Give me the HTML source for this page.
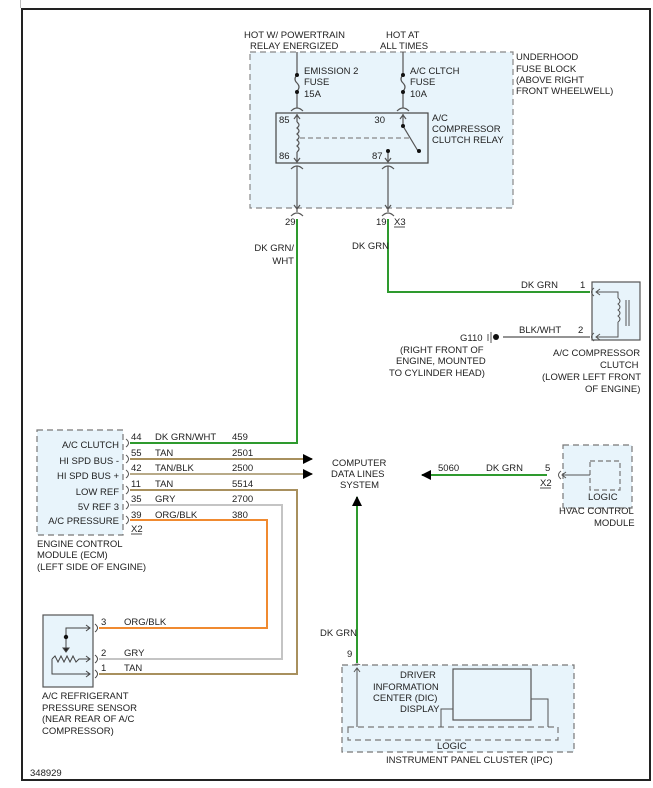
<!DOCTYPE html>
<html><head><meta charset="utf-8"><style>
html,body{margin:0;padding:0;background:#fff;}
svg text{font-family:"Liberation Sans",sans-serif;font-size:9.5px;fill:#222;}
</style></head><body>
<svg width="653" height="783" viewBox="0 0 653 783" xmlns="http://www.w3.org/2000/svg">
<defs>
<marker id="ah" viewBox="0 0 10 10" refX="9" refY="5" markerWidth="10" markerHeight="10" markerUnits="userSpaceOnUse" orient="auto"><path d="M0,0L10,5L0,10z" fill="#000"/></marker>
</defs>
<rect x="0" y="0" width="653" height="783" fill="#fff"/>
<line x1="20.5" y1="0" x2="20.5" y2="8" stroke="#bbb"/>
<rect x="22" y="9" width="628" height="771" fill="none" stroke="#222" stroke-width="2"/>

<!-- Fuse block -->
<rect x="250" y="52" width="263" height="156" fill="#e8f4fb" stroke="#888" stroke-dasharray="6,4" stroke-width="1.2"/>
<text x="244" y="38">HOT W/ POWERTRAIN</text>
<text x="250" y="49">RELAY ENERGIZED</text>
<text x="386" y="38">HOT AT</text>
<text x="380" y="49">ALL TIMES</text>
<text x="516" y="60">UNDERHOOD</text>
<text x="516" y="72">FUSE BLOCK</text>
<text x="516" y="83">(ABOVE RIGHT</text>
<text x="516" y="94">FRONT WHEELWELL)</text>
<g stroke="#555" stroke-width="1.2" fill="none">
<line x1="297" y1="52" x2="297" y2="75"/>
<path d="M297,75 q-4,4 0,8 q4,4 0,8"/>
<line x1="297" y1="91" x2="297" y2="108"/>
<line x1="403" y1="52" x2="403" y2="75"/>
<path d="M403,75 q-4,4 0,8 q4,4 0,8"/>
<line x1="403" y1="91" x2="403" y2="108"/>
<path d="M291,111 q6,-6 12,0"/><path d="M397,111 q6,-6 12,0"/>
<rect x="276" y="113" width="152" height="50" stroke="#444" stroke-width="1.2" fill="#e8f4fb"/>
<line x1="297" y1="114" x2="297" y2="122"/>
<path d="M294,119l3,-4l3,4"/>
<path d="M297,122 q4,3 0,6 q4,3 0,6 q4,3 0,6 q4,3 0,6 q4,3 0,6"/>
<line x1="297" y1="152" x2="297" y2="162"/>
<path d="M294,158l3,4l3,-4"/>
<line x1="300" y1="138" x2="410" y2="138" stroke="#888" stroke-dasharray="5,3"/>
<line x1="403" y1="114" x2="403" y2="126"/>
<path d="M400,119l3,-4l3,4"/>
<line x1="403" y1="126" x2="418" y2="151"/>
<line x1="388" y1="151" x2="388" y2="162"/>
<path d="M385,158l3,4l3,-4"/>
<path d="M291,169 q6,-6 12,0"/><path d="M382,169 q6,-6 12,0"/>
<line x1="297" y1="166" x2="297" y2="212"/>
<line x1="388" y1="166" x2="388" y2="212"/>
<path d="M294,205l3,4l3,-4"/><path d="M385,205l3,4l3,-4"/>
<path d="M291,216 q6,-6 12,0"/><path d="M382,216 q6,-6 12,0"/>
</g>
<g fill="#111"><circle cx="297" cy="75" r="2"/><circle cx="297" cy="92" r="2"/><circle cx="403" cy="75" r="2"/><circle cx="403" cy="92" r="2"/><circle cx="403" cy="126" r="2"/><circle cx="419" cy="151" r="2"/><circle cx="388" cy="151" r="2"/></g>
<text x="304" y="74">EMISSION 2</text><text x="304" y="85">FUSE</text><text x="304" y="97">15A</text>
<text x="410" y="74">A/C CLTCH</text><text x="410" y="85">FUSE</text><text x="410" y="97">10A</text>
<text x="432" y="121">A/C</text><text x="432" y="132">COMPRESSOR</text><text x="432" y="143">CLUTCH RELAY</text>
<text x="279" y="123">85</text><text x="279" y="159">86</text><text x="385" y="123" text-anchor="end">30</text><text x="372" y="159">87</text>
<text x="285" y="225">29</text><text x="376" y="225">19</text><text x="394" y="225">X3</text>
<line x1="394" y1="227" x2="405" y2="227" stroke="#222" stroke-width="0.8"/>

<!-- green wires -->
<g stroke="#2e9a2e" stroke-width="2" fill="none">
<polyline points="297,219 297,443 130,443"/>
<polyline points="388,219 388,292 590,292"/>
<line x1="547" y1="475" x2="422" y2="475" marker-end="url(#ah)"/>
<line x1="357" y1="663" x2="357" y2="497" marker-end="url(#ah)"/>
</g>
<text x="294" y="251" text-anchor="end">DK GRN/</text><text x="294" y="264" text-anchor="end">WHT</text>
<text x="352" y="249">DK GRN</text>

<!-- Clutch -->
<rect x="592" y="282" width="48" height="58" fill="#e8f4fb" stroke="#555" stroke-width="1.2"/>
<g stroke="#555" stroke-width="1" fill="none">
<path d="M594,288 q-5,4 0,8"/><path d="M594,333 q-5,4 0,8"/>
<polyline points="600,289 596,292 600,295"/><polyline points="600,334 596,337 600,340"/>
<polyline points="596,292 618,292 618,298"/>
<path d="M618,298 q4,3 0,6 q4,3 0,6 q4,3 0,6 q4,3 0,6"/>
<polyline points="618,322 618,337 596,337"/>
<line x1="626" y1="300" x2="626" y2="326"/><line x1="629" y1="300" x2="629" y2="326"/>
<line x1="503" y1="337" x2="590" y2="337" stroke="#555" stroke-width="1.2"/>
<line x1="488" y1="334" x2="488" y2="341"/><line x1="491" y1="332" x2="491" y2="343"/>
</g>
<circle cx="496" cy="337" r="3" fill="#111"/>
<text x="521" y="288">DK GRN</text><text x="580" y="288">1</text>
<text x="519" y="333">BLK/WHT</text><text x="578" y="333">2</text>
<text x="460" y="341">G110</text>
<text x="400" y="353">(RIGHT FRONT OF</text><text x="396" y="364">ENGINE, MOUNTED</text><text x="389" y="376">TO CYLINDER HEAD)</text>
<text x="553" y="356">A/C COMPRESSOR</text><text x="600" y="368">CLUTCH</text><text x="542" y="380">(LOWER LEFT FRONT</text><text x="585" y="392">OF ENGINE)</text>

<!-- ECM -->
<rect x="37" y="430" width="86" height="105" fill="#e8f4fb" stroke="#777" stroke-dasharray="6,4" stroke-width="1.2"/>
<g stroke="#555" stroke-width="1" fill="none">
<path d="M126,439 q5,4 0,8"/><path d="M126,455 q5,4 0,8"/><path d="M126,470 q5,4 0,8"/><path d="M126,486 q5,4 0,8"/><path d="M126,501 q5,4 0,8"/><path d="M126,516 q5,4 0,8"/>
</g>
<g font-size="9.5">
<text x="119" y="448" text-anchor="end">A/C CLUTCH</text>
<text x="119" y="464" text-anchor="end">HI SPD BUS -</text>
<text x="119" y="479" text-anchor="end">HI SPD BUS +</text>
<text x="119" y="495" text-anchor="end">LOW REF</text>
<text x="119" y="510" text-anchor="end">5V REF 3</text>
<text x="119" y="524" text-anchor="end">A/C PRESSURE</text>
</g>
<text x="131" y="440">44</text><text x="155" y="440">DK GRN/WHT</text><text x="232" y="440">459</text>
<text x="131" y="456">55</text><text x="155" y="456">TAN</text><text x="232" y="456">2501</text>
<text x="131" y="471">42</text><text x="155" y="471">TAN/BLK</text><text x="232" y="471">2500</text>
<text x="131" y="487">11</text><text x="155" y="487">TAN</text><text x="232" y="487">5514</text>
<text x="131" y="502">35</text><text x="155" y="502">GRY</text><text x="232" y="502">2700</text>
<text x="131" y="518">39</text><text x="155" y="518">ORG/BLK</text><text x="232" y="518">380</text>
<text x="131" y="532">X2</text><line x1="131" y1="534" x2="142" y2="534" stroke="#222" stroke-width="0.8"/>
<text x="37" y="547">ENGINE CONTROL</text><text x="37" y="558">MODULE (ECM)</text><text x="37" y="570">(LEFT SIDE OF ENGINE)</text>
<g fill="none" stroke-width="2">
<line x1="130" y1="459" x2="312" y2="459" stroke="#a8905e" marker-end="url(#ah)"/>
<line x1="130" y1="474" x2="312" y2="474" stroke="#b8aa88" marker-end="url(#ah)"/>
<polyline points="130,490 297,490 297,674 99,674" stroke="#a8905e"/>
<polyline points="130,505 282,505 282,659 99,659" stroke="#c4c4c4"/>
<polyline points="130,520 267,520 267,628 99,628" stroke="#f08a30"/>
</g>
<text x="332" y="466">COMPUTER</text><text x="331" y="477">DATA LINES</text><text x="340" y="488">SYSTEM</text>

<!-- HVAC -->
<rect x="563" y="445" width="69" height="63" fill="#e8f4fb" stroke="#777" stroke-dasharray="6,4" stroke-width="1.2"/>
<rect x="590" y="461" width="30" height="29" fill="none" stroke="#777" stroke-dasharray="5,3" stroke-width="1.2"/>
<g stroke="#555" stroke-width="1" fill="none">
<path d="M561,471 q-5,4 0,8"/><polyline points="566,472 562,475 566,478"/><line x1="562" y1="475" x2="590" y2="475"/>
</g>
<text x="438" y="471">5060</text><text x="486" y="471">DK GRN</text><text x="545" y="471">5</text>
<text x="540" y="486">X2</text><line x1="540" y1="488" x2="551" y2="488" stroke="#222" stroke-width="0.8"/>
<text x="588" y="500">LOGIC</text>
<text x="559" y="514">HVAC CONTROL</text><text x="594" y="526">MODULE</text>

<!-- Sensor -->
<rect x="43" y="615" width="50" height="72" fill="#e8f4fb" stroke="#555" stroke-width="1.2"/>
<g stroke="#444" stroke-width="1" fill="none">
<path d="M95,624 q5,4 0,8"/><path d="M95,655 q5,4 0,8"/><path d="M95,670 q5,4 0,8"/>
<polyline points="66,637 66,628 90,628"/><polyline points="86,625 90,628 86,631"/>
<line x1="66" y1="637" x2="66" y2="650"/><path d="M63,648l3,4l3,-4z" fill="#222"/>
<polyline points="52,659 55,656 58,662 61,656 64,662 67,656 70,662 73,656 76,662 79,659 90,659"/><polyline points="86,656 90,659 86,662"/>
<polyline points="52,659 52,674 90,674"/><polyline points="86,671 90,674 86,677"/>
</g>
<circle cx="66" cy="637" r="2.2" fill="#111"/>
<text x="101" y="625">3</text><text x="124" y="625">ORG/BLK</text>
<text x="101" y="656">2</text><text x="124" y="656">GRY</text>
<text x="101" y="671">1</text><text x="124" y="671">TAN</text>
<text x="42" y="699">A/C REFRIGERANT</text><text x="42" y="711">PRESSURE SENSOR</text><text x="42" y="722">(NEAR REAR OF A/C</text><text x="42" y="734">COMPRESSOR)</text>
<text x="30" y="776">348929</text>

<!-- IPC -->
<text x="320" y="636">DK GRN</text><text x="347" y="657">9</text>
<path d="M352,667 q5,-6 10,0" stroke="#555" fill="none"/>
<rect x="342" y="665" width="232" height="87" fill="#e8f4fb" stroke="#777" stroke-dasharray="6,4" stroke-width="1.2"/>
<rect x="348" y="727" width="210" height="13" fill="none" stroke="#777" stroke-dasharray="6,4" stroke-width="1.2"/>
<rect x="453" y="669" width="78" height="51" fill="#e8f4fb" stroke="#555" stroke-width="1.2"/>
<g stroke="#555" stroke-width="1" fill="none">
<line x1="357" y1="668" x2="357" y2="727"/><polyline points="354,672 357,668 360,672"/>
<polyline points="453,709 441,709 441,727"/>
<polyline points="531,699 548,699 548,727"/>
</g>
<text x="400" y="678">DRIVER</text><text x="373" y="690">INFORMATION</text><text x="373" y="701">CENTER (DIC)</text><text x="400" y="712">DISPLAY</text>
<text x="437" y="749">LOGIC</text>
<text x="386" y="763">INSTRUMENT PANEL CLUSTER (IPC)</text>
</svg>
</body></html>
